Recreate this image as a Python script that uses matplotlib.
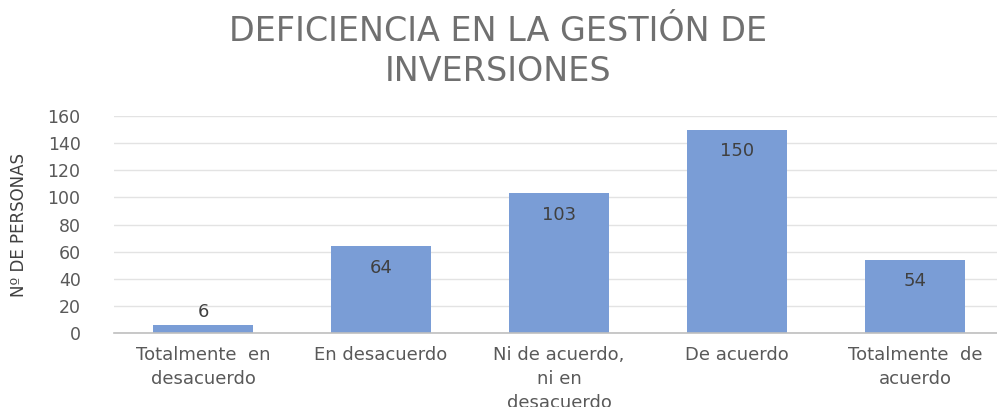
import matplotlib.pyplot as plt

categories = [
    "Totalmente  en\ndesacuerdo",
    "En desacuerdo",
    "Ni de acuerdo,\nni en\ndesacuerdo",
    "De acuerdo",
    "Totalmente  de\nacuerdo",
]
personas = [6, 64, 103, 150, 54]
yticks = [0, 20, 40, 60, 80, 100, 120, 140, 160]

plt.rcParams['font.family'] = ['DejaVu Sans']

fig = plt.figure(figsize=(9.97, 4.07), dpi=100)
ax = fig.add_axes([0.1143, 0.1818, 0.8857, 0.533])

x = range(len(categories))
bars = ax.bar(x, personas, width=0.56, color='#7a9dd6', zorder=2)

# data labels: inside the bar near the top, above it when the bar is short
for xi, v in zip(x, personas):
    if v < 20:
        ax.text(xi, v + 3, str(v), ha='center', va='bottom', fontsize=13, color='#404040')
    else:
        ax.text(xi, v - 16, str(v), ha='center', va='center', fontsize=13, color='#404040')

ax.set_ylim(0, 160)
ax.set_xlim(-0.5, 4.46)
ax.set_yticks(yticks)
ax.set_yticklabels([str(t) for t in yticks], fontsize=12.5, color='#595959')
ax.set_xticks(list(x))
ax.set_xticklabels(categories, fontsize=13, color='#595959', linespacing=1.45)
ax.tick_params(axis='both', length=0)
ax.tick_params(axis='y', pad=24)
ax.tick_params(axis='x', pad=9)

ax.grid(axis='y', color='#e3e3e3', linewidth=1, zorder=0)
for s in ['top', 'right', 'left']:
    ax.spines[s].set_visible(False)
ax.spines['bottom'].set_color('#bfbfbf')
ax.spines['bottom'].set_linewidth(1.2)

ax.set_ylabel("Nº DE PERSONAS", fontsize=12, color='#404040',
              family=['Liberation Sans Narrow', 'DejaVu Sans Condensed', 'DejaVu Sans'], labelpad=14)

fig.text(0.5, 0.873, "DEFICIENCIA EN LA GESTIÓN DE\nINVERSIONES", ha='center', va='center',
         fontsize=24, color='#707070', linespacing=1.25)

fig.savefig('out.png', dpi=100)
